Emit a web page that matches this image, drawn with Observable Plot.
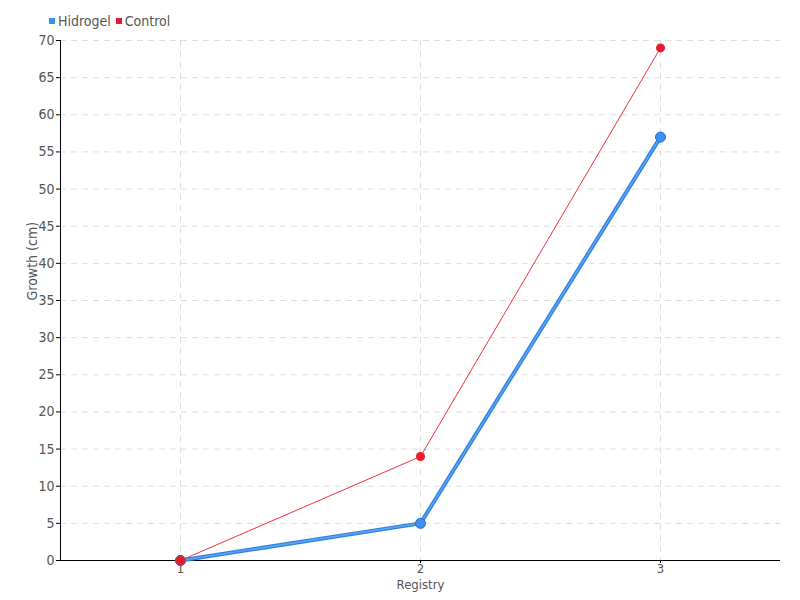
<!DOCTYPE html>
<html><head><meta charset="utf-8">
<script src="https://cdn.jsdelivr.net/npm/d3@7"></script>
<script src="https://cdn.jsdelivr.net/npm/@observablehq/plot@0.6"></script>
<style>
body{margin:0;background:#fff;font-family:"DejaVu Sans Condensed","DejaVu Sans",sans-serif;font-stretch:condensed;}
#wrap{position:relative;width:800px;height:600px;}
#legend{position:absolute;left:49px;top:13px;font-size:14px;color:#555;display:flex;gap:5px;align-items:center;}
#legend span{display:inline-flex;align-items:center;}
#legend i{display:inline-block;width:6px;height:6px;margin-right:3px;}
svg text{font-stretch:condensed;}
</style></head>
<body>
<div id="wrap"><div id="legend"></div><div id="chart"></div></div>
<script>
const registries = [1, 2, 3];
const hidrogel = [0, 5, 57];
const control = [0, 14, 69];
const seriesNames = ["Hidrogel", "Control"];
const seriesColors = ["#3d8ff0", "#e81c2a"];
const yTicks = d3.range(0, 71, 5);

const hData = registries.map((r, i) => ({r, v: hidrogel[i]}));
const cData = registries.map((r, i) => ({r, v: control[i]}));

const leg = document.getElementById("legend");
seriesNames.forEach((n, i) => {
  const s = document.createElement("span");
  s.innerHTML = `<i style="background:${seriesColors[i]}"></i>${n}`;
  leg.appendChild(s);
});

const chart = Plot.plot({
  width: 800, height: 600,
  marginTop: 40, marginBottom: 40, marginLeft: 60, marginRight: 20,
  style: {fontFamily: '"DejaVu Sans Condensed","DejaVu Sans",sans-serif', fontSize: "14px", color: "#555"},
  x: {type: "point", domain: registries, padding: 0.5, label: null},
  y: {domain: [0, 70], ticks: yTicks, label: null},
  marks: [
    Plot.gridY(yTicks, {stroke: "#ddd", strokeOpacity: 1, strokeDasharray: "6,5"}),
    Plot.gridX(registries, {stroke: "#ddd", strokeOpacity: 1, strokeDasharray: "6,5"}),
    Plot.axisY({ticks: yTicks, tickSize: 4, tickPadding: 2, label: null, stroke: "#000", fill: "#555"}),
    Plot.axisX({ticks: registries, tickSize: 3, tickPadding: 0, label: null, stroke: "#000", fill: "#555", fontSize: 13}),
    Plot.ruleY([0], {stroke: "#000"}),
    Plot.frame({anchor: "left", stroke: "#000"}),
    Plot.line(hData, {x: "r", y: "v", stroke: "#2f7fe0", strokeWidth: 4}),
    Plot.line(hData, {x: "r", y: "v", stroke: "#5aa5f5", strokeWidth: 1.5}),
    Plot.line(cData, {x: "r", y: "v", stroke: "#f0303c", strokeWidth: 1}),
    Plot.dot(hData, {x: "r", y: "v", r: 5, fill: "#3d8ff0", stroke: "#2a6cc8", strokeWidth: 1}),
    Plot.dot(cData.slice(0, 1), {x: "r", y: "v", r: 5, fill: "#e81c2a", stroke: "#3d6fc8", strokeWidth: 1}),
    Plot.dot(cData.slice(1), {x: "r", y: "v", r: 4.5, fill: "#e81c2a"}),
    Plot.text(["Registry"], {frameAnchor: "bottom", dy: 28, fill: "#555", fontSize: 13}),
    Plot.text(["Growth (cm)"], {frameAnchor: "left", dx: -28, rotate: -90, fill: "#555", fontSize: 14})
  ]
});
document.getElementById("chart").appendChild(chart);
</script>
</body></html>
